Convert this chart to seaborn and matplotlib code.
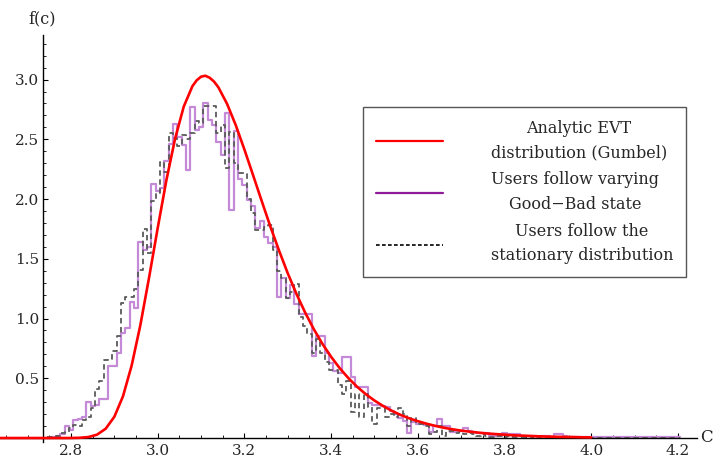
import numpy as np
import pandas as pd
import matplotlib
matplotlib.use("Agg")
import matplotlib.pyplot as plt
import seaborn as sns
from matplotlib.lines import Line2D
from matplotlib.ticker import MultipleLocator, FixedLocator

# histogram bins: width 0.01, first bin centred on 2.75
bin_first = 2.75
bin_width = 0.01

# Users follow varying Good-Bad state (purple histogram), one value per bin
good_bad = [
    0.00, 0.01, 0.02, 0.03, 0.10, 0.07, 0.15, 0.16, 0.18, 0.30,
    0.27, 0.28, 0.33, 0.33, 0.60, 0.60, 0.71, 0.88, 0.92, 1.14,
    1.09, 1.64, 1.57, 1.60, 2.13, 2.07, 2.09, 2.32, 2.46, 2.63,
    2.52, 2.45, 2.24, 2.77, 2.58, 2.60, 2.80, 2.66, 2.62, 2.48,
    2.37, 2.72, 1.91, 2.57, 2.17, 2.12, 1.99, 1.94, 1.76, 1.82,
    1.68, 1.63, 1.60, 1.18, 1.34, 1.17, 1.28, 1.12, 1.04, 1.04,
    1.04, 0.69, 0.85, 0.85, 0.71, 0.63, 0.56, 0.54, 0.68, 0.68,
    0.51, 0.43, 0.43, 0.43, 0.29, 0.28, 0.28, 0.27, 0.26, 0.23,
    0.20, 0.17, 0.14, 0.04, 0.13, 0.12, 0.12, 0.11, 0.05, 0.10,
    0.16, 0.10, 0.10, 0.05, 0.06, 0.06, 0.08, 0.06, 0.05, 0.04,
    0.04, 0.04, 0.02, 0.02, 0.02, 0.04, 0.03, 0.03, 0.03, 0.02,
    0.02, 0.02, 0.02, 0.01, 0.02, 0.02, 0.01, 0.03, 0.03, 0.02,
    0.01, 0.01, 0.01, 0.01, 0.01, 0.01, 0.01, 0.01, 0.01, 0.01,
    0.01, 0.01, 0.01, 0.01, 0.01, 0.01, 0.01, 0.01, 0.01, 0.01,
    0.01, 0.01, 0.01, 0.01, 0.01, 0.01,
]

# Users follow the stationary distribution (dashed histogram)
stationary = [
    0.01, 0.01, 0.02, 0.04, 0.05, 0.08, 0.11, 0.10, 0.15, 0.18,
    0.25, 0.41, 0.48, 0.65, 0.66, 0.73, 0.85, 1.13, 1.18, 1.18,
    1.25, 1.41, 1.75, 1.55, 1.98, 2.05, 2.31, 2.23, 2.55, 2.51,
    2.44, 2.54, 2.50, 2.55, 2.65, 2.64, 2.78, 2.78, 2.78, 2.55,
    2.62, 2.26, 2.56, 2.30, 2.22, 2.22, 2.00, 1.88, 1.74, 1.74,
    1.77, 1.78, 1.57, 1.40, 1.34, 1.17, 1.22, 1.29, 1.01, 0.94,
    0.87, 0.71, 0.83, 0.71, 0.64, 0.57, 0.57, 0.44, 0.37, 0.48,
    0.22, 0.37, 0.18, 0.37, 0.26, 0.12, 0.25, 0.25, 0.18, 0.20,
    0.18, 0.25, 0.20, 0.10, 0.17, 0.12, 0.12, 0.10, 0.03, 0.05,
    0.10, 0.02, 0.06, 0.06, 0.04, 0.05, 0.03, 0.04, 0.03, 0.02,
    0.03, 0.02, 0.01, 0.02, 0.02, 0.01, 0.02, 0.01, 0.01, 0.01,
    0.01, 0.01, 0.00, 0.01, 0.00, 0.00, 0.01, 0.00, 0.00, 0.00,
    0.00, 0.00, 0.00, 0.00, 0.00, 0.00, 0.00, 0.00, 0.00, 0.00,
    0.00, 0.00, 0.00, 0.00, 0.00, 0.00, 0.00, 0.00, 0.00, 0.00,
    0.00, 0.00, 0.00, 0.00, 0.00, 0.00,
]

# Analytic EVT (Gumbel) curve
gumbel_c = [
    2.62, 2.66, 2.70, 2.74, 2.78, 2.80, 2.82, 2.84, 2.86, 2.88,
    2.90, 2.92, 2.94, 2.96, 2.98, 3.00, 3.02, 3.04, 3.06, 3.08,
    3.09, 3.10, 3.11, 3.12, 3.13, 3.14, 3.16, 3.18, 3.20, 3.22,
    3.24, 3.26, 3.28, 3.30, 3.32, 3.34, 3.36, 3.38, 3.40, 3.42,
    3.44, 3.46, 3.48, 3.50, 3.52, 3.54, 3.56, 3.58, 3.60, 3.62,
    3.64, 3.66, 3.68, 3.70, 3.72, 3.74, 3.76, 3.78, 3.80, 3.82,
    3.84, 3.86, 3.88, 3.90, 3.92, 3.94, 3.96, 3.98, 4.00,
]
gumbel_f = [
    0.000, 0.000, 0.000, 0.000, 0.000, 0.0003, 0.002, 0.008, 0.028, 0.078,
    0.178, 0.350, 0.608, 0.945, 1.341, 1.757, 2.157, 2.503, 2.773, 2.944,
    2.994, 3.024, 3.032, 3.015, 2.983, 2.935, 2.797, 2.619, 2.415, 2.200,
    1.983, 1.769, 1.568, 1.379, 1.207, 1.051, 0.912, 0.788, 0.680, 0.584,
    0.501, 0.429, 0.367, 0.314, 0.268, 0.228, 0.194, 0.165, 0.141, 0.120,
    0.102, 0.086, 0.073, 0.062, 0.053, 0.045, 0.038, 0.033, 0.028, 0.023,
    0.020, 0.017, 0.014, 0.012, 0.010, 0.009, 0.008, 0.006, 0.005,
]

labels = [
    "Analytic EVT\ndistribution (Gumbel)",
    "Users follow varying\nGood\u2212Bad state",
    "Users follow the\nstationary distribution",
]

sns.set_theme(style="white")
plt.rcParams["font.family"] = ["DejaVu Serif"]

centers = bin_first + bin_width * np.arange(len(good_bad))
edges = list(bin_first - bin_width / 2 + bin_width * np.arange(len(good_bad) + 1))
hist_df = pd.DataFrame({"c": centers, "good_bad": good_bad, "stationary": stationary})
curve_df = pd.DataFrame({"c": gumbel_c, "f": gumbel_f})

fig = plt.figure(figsize=(7.15, 4.59), dpi=100)
ax = fig.add_axes([0.0, 0.0379, 0.9748, 0.8856])

sns.histplot(data=hist_df, x="c", weights="good_bad", bins=edges, element="step",
             fill=False, color="#c48ad8", linewidth=1.6, ax=ax)
sns.histplot(data=hist_df, x="c", weights="stationary", bins=edges, element="step",
             fill=False, color="#5a5a5a", linewidth=1.3, linestyle=(0, (3, 2)), ax=ax)
sns.lineplot(data=curve_df, x="c", y="f", color="#ff0000", linewidth=1.9, ax=ax, zorder=5)

ax.set_xlim(2.6362, 4.2441)
ax.set_ylim(-0.03, 3.372)
ax.set_xlabel("")
ax.set_ylabel("")

for side in ["top", "right"]:
    ax.spines[side].set_visible(False)
ax.spines["left"].set_position(("data", 2.735))
ax.spines["bottom"].set_position(("data", 0))
ax.spines["left"].set_bounds(-0.03, 3.372)
for side in ["left", "bottom"]:
    ax.spines[side].set_color("black")
    ax.spines[side].set_linewidth(1.0)

ax.xaxis.set_major_locator(FixedLocator([2.8, 3.0, 3.2, 3.4, 3.6, 3.8, 4.0, 4.2]))
ax.xaxis.set_minor_locator(MultipleLocator(0.05))
ax.yaxis.set_major_locator(FixedLocator([0.5, 1.0, 1.5, 2.0, 2.5, 3.0]))
ax.yaxis.set_minor_locator(MultipleLocator(0.1))
ax.set_xticklabels(["2.8", "3.0", "3.2", "3.4", "3.6", "3.8", "4.0", "4.2"])
ax.set_yticklabels(["0.5", "1.0", "1.5", "2.0", "2.5", "3.0"])
ax.tick_params(which="both", direction="in", color="black", bottom=True, left=True)
ax.tick_params(which="major", length=3.5, width=0.8, labelsize=11)
ax.tick_params(which="minor", length=2.0, width=0.6)
ax.tick_params(axis="x", pad=4)
ax.tick_params(axis="y", pad=2.5)

fig.text(42 / 715, 1 - 19 / 459, "f(c)", ha="center", va="center", fontsize=11.5)
fig.text(700 / 715, 1 - 438 / 459, "C", ha="left", va="center", fontsize=12)

handles = [
    Line2D([], [], color="#ff0000", linewidth=1.6),
    Line2D([], [], color="#8e1a9a", linewidth=1.6),
    Line2D([], [], color="black", linewidth=1.2, linestyle=(0, (2.2, 1.4))),
]
leg = ax.legend(handles, labels, loc="upper left",
                bbox_to_anchor=(363 / 715, 1 - 107 / 459), bbox_transform=fig.transFigure,
                frameon=True, fancybox=False, framealpha=1, edgecolor="#555555",
                fontsize=11.5, handlelength=4.2, handletextpad=3.0, borderpad=0.8,
                labelspacing=0.66, borderaxespad=0)
leg.get_frame().set_linewidth(1.0)
for t in leg.get_texts():
    t.set_multialignment("center")
    t.set_linespacing(1.55)

fig.savefig("out.png", dpi=100)
